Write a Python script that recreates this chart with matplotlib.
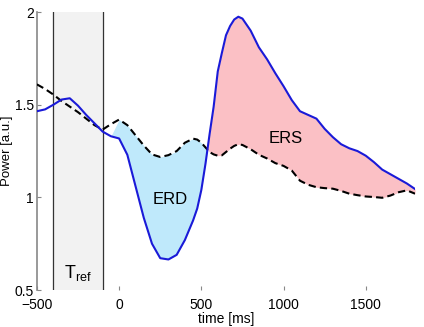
import numpy as np
import matplotlib
matplotlib.use('Agg')
import matplotlib.pyplot as plt

plt.rcParams['font.family'] = ['Liberation Sans', 'DejaVu Sans']
plt.rcParams['mathtext.fontset'] = 'custom'
plt.rcParams['mathtext.rm'] = 'Liberation Sans'

# time axis (ms)
t = [-500, -450, -400, -350, -300, -250, -200, -150, -100, -50,
     0, 50, 100, 150, 200, 250, 300, 350, 400, 450,
     475, 500, 525, 550, 575, 600, 625, 650, 675, 700,
     725, 750, 800, 850, 900, 950, 1000, 1050, 1100, 1150,
     1200, 1250, 1300, 1350, 1400, 1450, 1500, 1550, 1600, 1650,
     1700, 1750, 1800]

# power of the event-related signal (blue)
power = [1.465, 1.475, 1.50, 1.528, 1.535, 1.495, 1.445, 1.40, 1.355, 1.33,
         1.318, 1.23, 1.06, 0.89, 0.75, 0.672, 0.665, 0.69, 0.77, 0.876,
         0.94, 1.04, 1.18, 1.34, 1.49, 1.68, 1.78, 1.875, 1.925, 1.96,
         1.975, 1.965, 1.90, 1.81, 1.745, 1.67, 1.60, 1.525, 1.465, 1.445,
         1.425, 1.37, 1.325, 1.287, 1.265, 1.25, 1.225, 1.19, 1.15, 1.125,
         1.10, 1.075, 1.045]

# reference power (dashed)
ref = [1.61, 1.585, 1.555, 1.52, 1.49, 1.46, 1.425, 1.39, 1.366, 1.395,
       1.42, 1.39, 1.335, 1.28, 1.232, 1.218, 1.228, 1.25, 1.295, 1.317,
       1.312, 1.295, 1.27, 1.245, 1.232, 1.225, 1.227, 1.245, 1.263, 1.278,
       1.287, 1.283, 1.26, 1.23, 1.21, 1.185, 1.17, 1.145, 1.09, 1.068,
       1.055, 1.05, 1.047, 1.035, 1.02, 1.012, 1.005, 1.002, 0.998, 1.01,
       1.028, 1.038, 1.02]

t_ref = [-400, -100]

t = np.array(t)
power = np.array(power)
ref = np.array(ref)

fig = plt.figure(figsize=(4.24, 3.27), dpi=100)
ax = fig.add_axes([0.087, 0.113, 0.892, 0.85])

# reference window
ax.axvspan(t_ref[0], t_ref[1], color='#f2f2f2', zorder=0)
for x in t_ref:
    ax.axvline(x, color='#333333', lw=0.9, zorder=1)

# ERD / ERS areas
after = t >= 0
ax.fill_between(t, power, ref, where=after & (power <= ref), interpolate=True,
                color='#bfe9fb', lw=0, zorder=2)
ax.fill_between(t, power, ref, where=after & (power >= ref), interpolate=True,
                color='#fbc0c5', lw=0, zorder=2)

ax.plot(t, ref, color='black', lw=1.5, ls=(0, (3.5, 2)), zorder=3)
ax.plot(t, power, color='#1a1ad8', lw=1.5, zorder=4)

ax.text(-250, 0.565, r'T$_\mathregular{ref}$', fontsize=13, ha='center', va='baseline')
ax.text(310, 0.99, 'ERD', fontsize=12, ha='center', va='center')
ax.text(1010, 1.32, 'ERS', fontsize=12, ha='center', va='center')

ax.set_xlim(-500, 1800)
ax.set_ylim(0.5, 2)
ax.set_xticks([-500, 0, 500, 1000, 1500])
ax.set_yticks([0.5, 1, 1.5, 2])
ax.set_yticklabels(['0.5', '1', '1.5', '2'])
ax.tick_params(direction='in', length=3, color='#888888', labelsize=10)
ax.tick_params(axis='x', pad=6)
ax.tick_params(axis='y', pad=2)
for s in ['top', 'right', 'bottom']:
    ax.spines[s].set_visible(False)
ax.spines['left'].set_color('#888888')
ax.spines['left'].set_linewidth(1.2)
ax.set_xlabel('time [ms]', fontsize=10, labelpad=0)
ax.set_ylabel('Power [a.u.]', fontsize=9.5)
ax.yaxis.set_label_coords(-0.062, 0.5)

fig.savefig('out.png', dpi=100)
